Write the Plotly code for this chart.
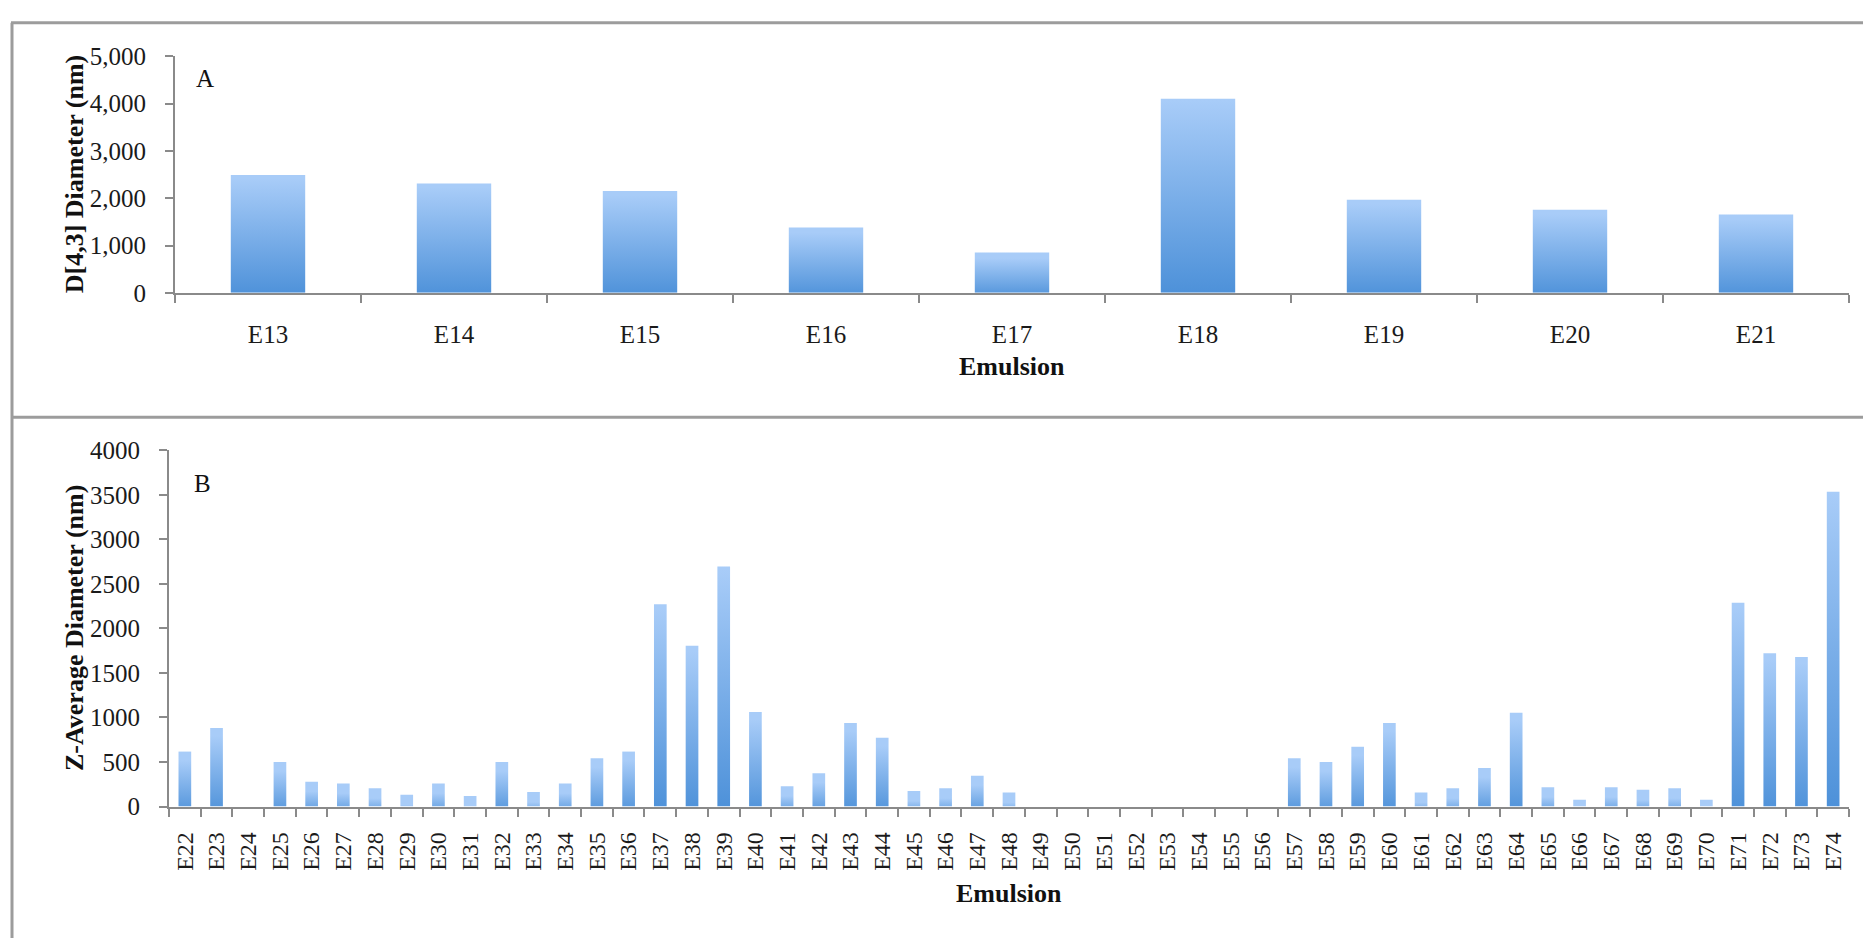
import plotly.graph_objects as go

# ---- data -------------------------------------------------------------
emulsions_a = ["E13", "E14", "E15", "E16", "E17", "E18", "E19", "E20", "E21"]
d43_nm = [2490, 2310, 2150, 1380, 850, 4100, 1965, 1755, 1655]

emulsions_b = [f"E{i}" for i in range(22, 75)]
z_avg_nm = [
    617, 883, 0, 500, 279, 258, 204, 133, 258, 117,      # E22-E31
    500, 162, 258, 542, 617, 2271, 1804, 2696, 1062, 229,  # E32-E41
    375, 937, 771, 175, 204, 346, 158, 0, 0, 0,           # E42-E51
    0, 0, 0, 0, 0, 542, 500, 671, 937, 158,               # E52-E61
    204, 433, 1054, 217, 75, 217, 188, 204, 75, 2287,     # E62-E71
    1721, 1679, 3533,                                      # E72-E74
]

ticks_a = [0, 1000, 2000, 3000, 4000, 5000]
ticks_b = [0, 500, 1000, 1500, 2000, 2500, 3000, 3500, 4000]

# ---- styling ----------------------------------------------------------
W, H = 1863, 952
FONT = "Liberation Serif"
AXIS_GREY = "#8a8a8a"
FRAME_GREY = "#9c9c9c"
BAR_SCALE = [[0.0, "#4a8fd8"], [1.0, "#a8ccf8"]]
BAR_W = 0.4


def px(x):
    return x / W


def py(y):
    return 1 - y / H


def bar_traces(values, xaxis, yaxis):
    traces = []
    for i, v in enumerate(values):
        if v <= 0:
            continue
        traces.append(
            go.Scatter(
                x=[i - BAR_W / 2, i + BAR_W / 2],
                y=[v, v],
                xaxis=xaxis,
                yaxis=yaxis,
                mode="lines",
                line=dict(width=0),
                fill="tozeroy",
                fillgradient=dict(type="vertical", colorscale=BAR_SCALE, start=0, stop=v),
                showlegend=False,
                hoverinfo="skip",
            )
        )
    return traces


fig = go.Figure()
for t in bar_traces(d43_nm, "x", "y"):
    fig.add_trace(t)
for t in bar_traces(z_avg_nm, "x2", "y2"):
    fig.add_trace(t)


def cat_axis(labels, domain, anchor, angle, standoff, size):
    n = len(labels)
    return dict(
        domain=domain,
        anchor=anchor,
        range=[-0.5, n - 0.5],
        tickmode="array",
        tickvals=list(range(n)),
        ticktext=labels,
        tickangle=angle,
        ticks="",
        ticklabelstandoff=standoff,
        showgrid=False,
        zeroline=False,
        showline=True,
        linecolor=AXIS_GREY,
        linewidth=2,
        tickfont=dict(family=FONT, size=size, color="#1a1a1a"),
        minor=dict(
            tickmode="array",
            tickvals=[k - 0.5 for k in range(n + 1)],
            ticks="outside",
            ticklen=8,
            tickwidth=2,
            tickcolor=AXIS_GREY,
            showgrid=False,
        ),
        fixedrange=True,
    )


def val_axis(tickvals, fmt, domain, anchor, size):
    return dict(
        domain=domain,
        anchor=anchor,
        range=[0, tickvals[-1]],
        tickmode="array",
        tickvals=tickvals,
        ticktext=[format(v, fmt) for v in tickvals],
        ticks="outside",
        ticklen=8,
        tickwidth=2,
        tickcolor=AXIS_GREY,
        ticklabelstandoff=14,
        showgrid=False,
        zeroline=False,
        showline=True,
        linecolor=AXIS_GREY,
        linewidth=2,
        tickfont=dict(family=FONT, size=size, color="#1a1a1a"),
        fixedrange=True,
    )


fig.update_layout(
    width=W,
    height=H,
    margin=dict(l=0, r=0, t=0, b=0),
    paper_bgcolor="white",
    plot_bgcolor="white",
    showlegend=False,
    xaxis=cat_axis(emulsions_a, [px(175), px(1849)], "y", 0, 18, 25),
    yaxis=val_axis(ticks_a, ",", [py(288), py(44.5)], "x", 25),
    xaxis2=cat_axis(emulsions_b, [px(169), px(1849)], "y2", -90, 14, 24),
    yaxis2=val_axis(ticks_b, "d", [py(816.7), py(450)], "x2", 25),
)

# panel frame: outer border and the divider between the two charts
frame = dict(type="line", xref="paper", yref="paper", line=dict(color=FRAME_GREY, width=3))
fig.add_shape(frame, x0=px(11), x1=1, y0=py(10), y1=py(10))
fig.add_shape(frame, x0=px(12), x1=px(12), y0=py(10), y1=0)
fig.add_shape(frame, x0=px(12), x1=1, y0=py(416), y1=py(416))

# axis titles and panel letters
def label(text, x, y, size, bold=False, angle=0):
    fig.add_annotation(
        text=f"<b>{text}</b>" if bold else text,
        x=px(x), y=py(y), xref="paper", yref="paper",
        xanchor="center", yanchor="middle",
        textangle=angle, showarrow=False,
        font=dict(family=FONT, size=size, color="#111111"),
    )

label("D[4,3] Diameter (nm)", 74, 166, 26, bold=True, angle=-90)
label("Emulsion", 1012, 364, 26, bold=True)
label("A", 205, 67, 25)

label("Z-Average Diameter (nm)", 74, 633, 26, bold=True, angle=-90)
label("Emulsion", 1009, 906, 26, bold=True)
label("B", 202, 484, 25)

fig.write_html("out.html")
